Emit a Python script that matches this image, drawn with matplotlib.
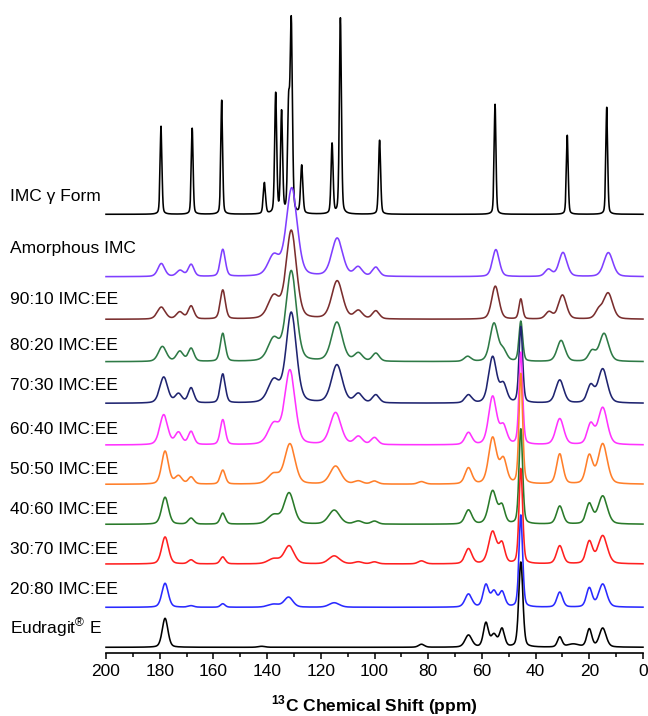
import matplotlib
matplotlib.use('Agg')
import matplotlib.pyplot as plt
import numpy as np

plt.rcParams['font.family'] = ['Liberation Sans', 'DejaVu Sans']
plt.rcParams['mathtext.fontset'] = 'custom'
plt.rcParams['mathtext.rm'] = 'Liberation Sans'
plt.rcParams['mathtext.bf'] = 'Liberation Sans:bold'

# peaks: (shift in ppm, height, width in ppm)
gamma_peaks = [(179.5, 88, 0.8), (167.9, 86, 0.8), (156.9, 114, 0.8), (141.0, 31, 1.0),
               (136.8, 120, 0.9), (134.6, 101, 0.9), (132.0, 100, 0.9), (131.0, 190, 1.0),
               (127.1, 48, 1.0), (115.8, 70, 0.9), (112.7, 196, 0.9), (98.1, 74, 0.9),
               (55.1, 110, 0.8), (28.2, 79, 0.8), (13.5, 107, 0.8)]
amorph_peaks = [(179.4, 13, 3), (172.4, 6, 3), (168.3, 12, 2.5), (156.5, 27, 2.2),
                (137.5, 20, 5), (130.8, 88, 4.8), (113.9, 38, 4.8), (106.1, 9, 3.5),
                (99.5, 9, 3), (54.8, 27, 3), (35.2, 7, 3), (29.8, 24, 3.5), (12.9, 24, 4)]
r90_peaks = [(179.4, 12, 3.5), (172.5, 7, 3), (168.3, 13, 2.5), (156.5, 29, 2.2),
             (137.5, 22, 5), (131.0, 88, 4.5), (113.9, 38, 4.8), (106.0, 8, 3.5),
             (99.5, 8, 3), (55.0, 33, 3.2), (45.5, 20, 1.6), (35.0, 7, 3), (30.0, 24, 3.5),
             (16.5, 8, 3), (13.0, 26, 4)]
r80_peaks = [(179.0, 15, 3.5), (172.5, 10, 3), (168.3, 13, 2.5), (156.5, 28, 2.2),
             (137.5, 22, 5), (131.0, 90, 4.5), (114.0, 39, 4.8), (106.0, 8, 3.5),
             (99.5, 8, 3), (65.3, 5, 3), (55.5, 38, 3.5), (52.0, 10, 3), (45.5, 40, 1.6),
             (30.5, 21, 3.5), (19.0, 10, 3), (14.5, 28, 4)]
r70_peaks = [(178.5, 26, 3.5), (173.0, 9, 3), (168.3, 15, 2.5), (156.5, 29, 2.2),
             (137.5, 22, 5), (131.0, 90, 4.5), (114.0, 38, 4.8), (106.0, 9, 3.5),
             (99.5, 8, 3), (65.0, 8, 3), (56.0, 46, 3.5), (52.0, 18, 3), (45.5, 76, 1.6),
             (31.0, 23, 3.5), (19.5, 17, 3), (15.0, 34, 4)]
r60_peaks = [(178.5, 30, 3.5), (173.0, 12, 3), (168.3, 13, 2.5), (156.5, 25, 2.2),
             (137.5, 20, 5), (131.5, 74, 4.5), (114.5, 32, 4.8), (106.0, 8, 3.5),
             (100.0, 7, 3), (65.0, 12, 3), (56.0, 48, 3.5), (52.0, 18, 3), (45.5, 92, 1.6),
             (31.0, 26, 3.5), (19.5, 20, 3), (15.0, 37, 4)]
r50_peaks = [(178.0, 33, 3), (173.0, 8, 3), (168.3, 7, 2.5), (156.5, 14, 2.2),
             (137.5, 10, 5), (131.5, 40, 4.5), (114.5, 18, 4.8), (106.0, 3, 3.5),
             (100.0, 3, 3), (82.5, 2.5, 3), (65.0, 16, 3), (56.0, 46, 3.5), (52.0, 24, 3),
             (45.5, 110, 1.6), (31.0, 30, 2.8), (20.0, 28, 3), (15.0, 40, 4)]
r40_peaks = [(178.0, 27, 3), (168.3, 6, 2.5), (156.5, 11, 2.2), (137.5, 9, 5),
             (131.8, 31, 4.3), (115.0, 14, 4.8), (106.0, 3, 3.5), (100.0, 3, 3),
             (65.0, 14, 3), (56.0, 33, 3.5), (52.5, 17, 2.5), (45.5, 95, 1.6),
             (31.0, 18, 2.8), (20.0, 20, 2.8), (15.0, 28, 4)]
r30_peaks = [(178.0, 27, 3), (168.3, 4, 2.5), (156.5, 7, 2.2), (137.5, 5, 5),
             (131.8, 18, 4.3), (115.0, 8, 4.8), (106.0, 2, 3.5), (100.0, 2, 3),
             (82.5, 3, 3), (65.0, 15, 3), (56.0, 32, 3.5), (52.5, 19, 2.5),
             (45.5, 95, 1.6), (31.0, 18, 2.8), (20.0, 22, 2.8), (15.0, 28, 4)]
r20_peaks = [(178.0, 24, 2.8), (168.3, 1.5, 2.5), (156.5, 3.5, 2), (137.5, 3, 5),
             (132.0, 10, 3.8), (115.0, 4.5, 4.5), (65.0, 13, 3), (58.5, 22, 2.5),
             (55.5, 15, 2.5), (52.5, 15, 2.5), (45.5, 92, 1.6), (31.0, 15, 2.5),
             (20.0, 19, 2.5), (15.0, 23, 3.5)]
ee_peaks = [(178.0, 29, 2.5), (142.0, 1, 3), (82.5, 3, 2.5), (65.0, 12, 3),
            (58.5, 24, 2.2), (55.5, 12, 2.5), (52.5, 18, 2.2), (45.5, 85, 1.8),
            (31.0, 10, 2), (26.0, 3, 5), (20.0, 18, 2.2), (15.0, 19, 3)]

spectra = [gamma_peaks, amorph_peaks, r90_peaks, r80_peaks, r70_peaks, r60_peaks,
           r50_peaks, r40_peaks, r30_peaks, r20_peaks, ee_peaks]
labels = ['IMC \u03b3 Form', 'Amorphous IMC', '90:10 IMC:EE', '80:20 IMC:EE',
          '70:30 IMC:EE', '60:40 IMC:EE', '50:50 IMC:EE', '40:60 IMC:EE',
          '30:70 IMC:EE', '20:80 IMC:EE', r'Eudragit$^{\circledR}$ E']
colors = ['black', '#7f3fff', '#7a2e2e', '#2e7a46', '#1f2470', '#ff33ff',
          '#ff7f2a', '#2a7a2a', '#ff2020', '#2a2aff', 'black']
# vertical offsets of the baselines (pixels above the axis line)
offsets = [438.7, 376.3, 333.7, 291.3, 249.7, 208.0, 168.7, 128.7, 89.0, 45.7, 5.7]
label_y = [195, 246, 297, 343, 384, 427, 467, 508, 547, 588, 628]


def spectrum(x, peaks, eta=0.3):
    y = np.zeros_like(x)
    for pos, h, w in peaks:
        g = np.exp(-4 * np.log(2) * ((x - pos) / w) ** 2)
        l = 1 / (1 + 4 * ((x - pos) / w) ** 2)
        y += h * ((1 - eta) * g + eta * l)
    return y


W, H = 648, 716
fig = plt.figure(figsize=(W / 100, H / 100), dpi=100)
ax = fig.add_axes([106 / W, (H - 653) / H, 537 / W, 653 / H])

x = np.linspace(0, 200, 8001)
for peaks, off, c in zip(spectra, offsets, colors):
    ax.plot(x, off + spectrum(x, peaks), color=c, lw=1.15, clip_on=False)

ax.set_xlim(200, 0)
ax.set_ylim(0, 653)
for s in ['top', 'left', 'right']:
    ax.spines[s].set_visible(False)
ax.spines['bottom'].set_linewidth(1.2)
ax.set_yticks([])
ax.set_xticks(np.arange(0, 201, 20))
ax.set_xticks(np.arange(0, 201, 10), minor=True)
ax.tick_params(axis='x', which='major', direction='out', length=4, width=1.1,
               labelsize=12.5, pad=4)
ax.tick_params(axis='x', which='minor', direction='out', length=3, width=1.1)
ax.patch.set_alpha(0)

for lab, ly in zip(labels, label_y):
    fig.text(10 / W, 1 - (ly + 6.5) / H, lab, fontsize=12.5, va='baseline', ha='left')

fig.text(374.5 / W, 1 - 711 / H, r'$^{\mathbf{13}}$C Chemical Shift (ppm)',
         fontsize=12.5, fontweight='bold', ha='center', va='baseline')

fig.savefig('out.png', dpi=100)
